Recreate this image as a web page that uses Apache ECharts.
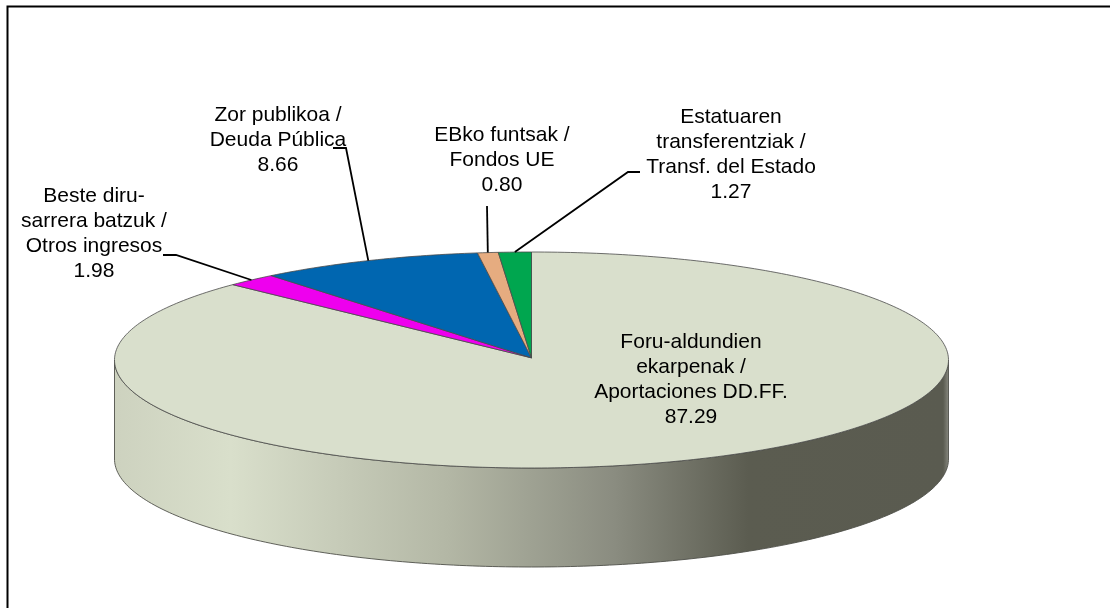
<!DOCTYPE html>
<html>
<head>
<meta charset="utf-8">
<script src="https://cdn.jsdelivr.net/npm/echarts@6/dist/echarts.min.js"></script>
<style>
  html, body { margin: 0; padding: 0; background: #fff; }
  #chart { width: 1110px; height: 608px; }
</style>
</head>
<body>
<div id="chart"></div>
<script>
// clockwise from 12 o'clock
const names = [
  ['Foru-aldundien', 'ekarpenak /', 'Aportaciones DD.FF.'],
  ['Beste diru-', 'sarrera batzuk /', 'Otros ingresos'],
  ['Zor publikoa /', 'Deuda Pública'],
  ['EBko funtsak /', 'Fondos UE'],
  ['Estatuaren', 'transferentziak /', 'Transf. del Estado']
];
const shares = [87.29, 1.98, 8.66, 0.80, 1.27];
const colors = ['#d9dfcc', '#ee00ee', '#0066b0', '#e6ac80', '#00a64f'];

// label centre x / first line y, and the elbow of each leader line
const labelPos = [[691, 342], [94, 196], [278, 115], [502, 135], [731, 117]];
const leaderElbow = [null, [[163, 255], [176, 255]], [[333, 148], [346, 148]], [[487, 206]], [[640, 172], [628, 172]]];

const CX = 531.5, RX = 417, CY = 360, RY = 108, DEPTH = 99;
const LINE_H = 25;

// ellipse point for a share position (0-100) running clockwise from the top
function rim(api, pos) {
  const a = pos / 100 * Math.PI * 2;
  return api.coord([Math.sin(a), Math.cos(a)]);
}

function arcPoints(api, from, to) {
  const pts = [];
  const n = Math.max(2, Math.ceil((to - from) * 4));
  for (let i = 0; i <= n; i++) pts.push(rim(api, from + (to - from) * i / n));
  return pts;
}

let acc = 0;
const slices = shares.map((v, i) => {
  const row = [acc, acc + v, i];
  acc += v;
  return row;
});

function renderWall(params, api) {
  // only the front half of the rim shows, from 3 o'clock to 9 o'clock
  const front = arcPoints(api, 25, 75);
  const lower = front.map(p => [p[0], p[1] + DEPTH]).reverse();
  return {
    type: 'polygon',
    shape: { points: front.concat(lower) },
    style: {
      fill: new echarts.graphic.LinearGradient(0, 0, 1, 0, [
        { offset: 0, color: '#cdd2bf' },
        { offset: 0.14, color: '#d9dfcb' },
        { offset: 0.4, color: '#b3b7a5' },
        { offset: 0.6, color: '#8a8c80' },
        { offset: 0.76, color: '#5b5c50' },
        { offset: 0.993, color: '#5a5b50' },
        { offset: 1, color: '#8a8b82' }
      ]),
      stroke: '#4f504a',
      lineWidth: 0.9
    }
  };
}

function renderSlice(params, api) {
  const from = api.value(0), to = api.value(1), i = api.value(2);
  const centre = api.coord([0, 0.02]);
  return {
    type: 'polygon',
    shape: { points: [centre].concat(arcPoints(api, from, to)) },
    style: { fill: colors[i], stroke: '#4a4a4a', lineWidth: 0.8 }
  };
}

function renderLabel(params, api) {
  const from = api.value(0), to = api.value(1), i = api.value(2);
  const children = [];
  if (leaderElbow[i]) {
    const end = rim(api, (from + to) / 2);
    children.push({
      type: 'polyline',
      shape: { points: leaderElbow[i].concat([end]) },
      style: { stroke: '#000', lineWidth: 1.8, fill: null }
    });
  }
  const lines = names[i].concat(shares[i].toFixed(2));
  lines.forEach((t, k) => {
    children.push({
      type: 'text',
      style: {
        x: labelPos[i][0],
        y: labelPos[i][1] + k * LINE_H,
        text: t,
        fill: '#000',
        font: '21px "Liberation Sans", Arial, sans-serif',
        align: 'center',
        verticalAlign: 'middle'
      }
    });
  });
  return { type: 'group', children: children };
}

const chart = echarts.init(document.getElementById('chart'), null, { renderer: 'canvas' });
chart.setOption({
  animation: false,
  backgroundColor: '#fff',
  tooltip: { show: false },
  grid: { left: CX - RX, width: RX * 2, top: CY - RY, height: RY * 2 },
  xAxis: { type: 'value', min: -1, max: 1, show: false },
  yAxis: { type: 'value', min: -1, max: 1, show: false },
  graphic: [
    {
      type: 'polyline',
      shape: { points: [[7.5, 608], [7.5, 6.5], [1110, 6.5]] },
      style: { stroke: '#000', lineWidth: 2, fill: null },
      silent: true
    }
  ],
  series: [
    { type: 'custom', data: [[0]], renderItem: renderWall, silent: true, z: 2 },
    { type: 'custom', data: slices, renderItem: renderSlice, silent: true, z: 3 },
    { type: 'custom', data: slices, renderItem: renderLabel, silent: true, z: 4 }
  ]
});
</script>
</body>
</html>
